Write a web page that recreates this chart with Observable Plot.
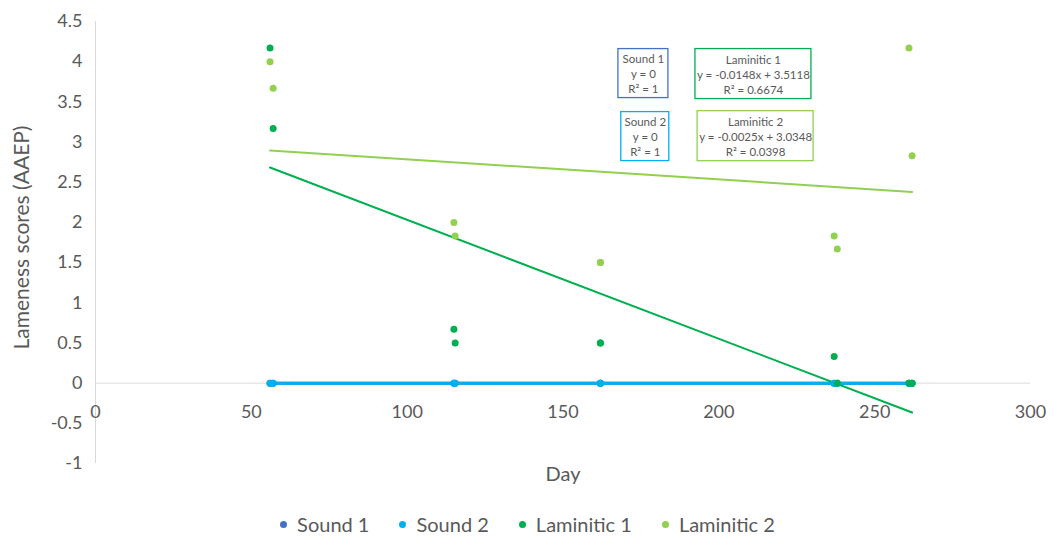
<!DOCTYPE html>
<html>
<head>
<meta charset="utf-8">
<script src="https://cdn.jsdelivr.net/npm/d3@7"></script>
<script src="https://cdn.jsdelivr.net/npm/@observablehq/plot@0.6"></script>
<style>
  html, body { margin: 0; padding: 0; background: #fff; }
  #chart { width: 1055px; height: 536px; position: relative; font-family: Lato, "Open Sans", sans-serif; }
  #legend { display: flex; justify-content: center; align-items: center; height: 38px; color: #595959; font-size: 20px; }
  .item { display: flex; align-items: center; margin: 0 15px; }
  .sw { width: 7px; height: 7px; border-radius: 50%; margin-right: 10px; }
</style>
</head>
<body>
<div id="chart"></div>
<script>
// ---- data ----
const seriesNames = ["Sound 1", "Sound 2", "Laminitic 1", "Laminitic 2"];
const seriesColors = ["#4472C4", "#00B0F0", "#00B050", "#92D050"];

const sound1Days = [56, 57, 115, 115.4, 162, 162, 237, 238, 261, 262];
const sound1Scores = [0, 0, 0, 0, 0, 0, 0, 0, 0, 0];
const sound2Days = [56, 57, 115, 115.4, 162, 162, 237, 238, 261, 262];
const sound2Scores = [0, 0, 0, 0, 0, 0, 0, 0, 0, 0];
const lam1Days = [56, 57, 115, 115.4, 162, 162, 237, 238, 261, 262];
const lam1Scores = [4.17, 3.17, 0.67, 0.5, 0.5, 0.5, 0.33, 0, 0, 0];
const lam2Days = [56, 57, 115, 115.4, 162, 162, 237, 238, 261, 262];
const lam2Scores = [4.0, 3.67, 2.0, 1.83, 1.5, 1.5, 1.83, 1.67, 4.17, 2.83];

// trendline equations shown on the chart
const trendSlopes = [0, 0, -0.0148, -0.0025];
const trendIntercepts = [0, 0, 3.5118, 3.0348];
const trendR2 = ["1", "1", "0.6674", "0.0398"];
const trendRange = [56, 262];

const xTicks = [0, 50, 100, 150, 200, 250, 300];
const yTicks = [-1, -0.5, 0, 0.5, 1, 1.5, 2, 2.5, 3, 3.5, 4, 4.5];

// ---- layout (not data) ----
const W = 1055, H = 505;
const mL = 95, mR = 25, mT = 21, mB = 42;
const xDomain = [0, 300], yDomain = [-1, 4.5];
const pxPerDay = (W - mL - mR) / (xDomain[1] - xDomain[0]);
const pxPerUnit = (H - mT - mB) / (yDomain[1] - yDomain[0]);
// annotation boxes: center in data units, size in px
const boxLayout = [
  {cx: 175.8, cy: 3.852, w: 50, h: 49},
  {cx: 176.4, cy: 3.068, w: 48, h: 49},
  {cx: 211.1, cy: 3.846, w: 116, h: 50},
  {cx: 211.8, cy: 3.073, w: 116, h: 50}
];
const yTitleOffsetPx = 73;   // distance of the y title left of the axis
const yTitleShiftPx = -5;    // vertical shift (up) of the y title

// ---- build tables ----
const allDays = [sound1Days, sound2Days, lam1Days, lam2Days];
const allScores = [sound1Scores, sound2Scores, lam1Scores, lam2Scores];
const points = [];
seriesNames.forEach((s, i) => allDays[i].forEach((d, j) => points.push({series: s, day: d, score: allScores[i][j]})));

const trends = [];
seriesNames.forEach((s, i) => trendRange.forEach(d => trends.push({series: s, day: d, score: trendIntercepts[i] + trendSlopes[i] * d})));

function eqText(i) {
  if (trendSlopes[i] === 0) return "y = " + trendIntercepts[i];
  return "y = " + trendSlopes[i].toFixed(4) + "x + " + trendIntercepts[i].toFixed(4);
}
const boxes = seriesNames.map((s, i) => {
  const b = boxLayout[i];
  return {
    series: s,
    text: s + "\n" + eqText(i) + "\nR² = " + trendR2[i],
    cx: b.cx, cy: b.cy,
    x1: b.cx - b.w / 2 / pxPerDay, x2: b.cx + b.w / 2 / pxPerDay,
    y1: b.cy - b.h / 2 / pxPerUnit, y2: b.cy + b.h / 2 / pxPerUnit
  };
});

const color = {domain: seriesNames, range: seriesColors};
const axisGray = "#D9D9D9";
const textGray = "#595959";

const plot = Plot.plot({
  width: W, height: H,
  marginLeft: mL, marginRight: mR, marginTop: mT, marginBottom: mB,
  style: {fontFamily: "Lato, 'Open Sans', sans-serif", background: "#fff", overflow: "visible"},
  x: {domain: xDomain, axis: null},
  y: {domain: yDomain, axis: null},
  color,
  marks: [
    Plot.ruleX([0], {y1: yDomain[0], y2: yDomain[1], stroke: axisGray, strokeWidth: 1}),
    Plot.ruleY([0], {x1: xDomain[0], x2: xDomain[1], stroke: axisGray, strokeWidth: 1}),
    Plot.axisY({ticks: yTicks, tickSize: 0, tickPadding: 13, tickFormat: d => String(d), fontSize: 18, color: textGray, label: null}),
    Plot.text(xTicks, {x: d => d, y: 0, dy: 29, text: d => String(d), fontSize: 18, fill: textGray}),
    Plot.text(["Lameness scores (AAEP)"], {
      x: () => xDomain[0] - yTitleOffsetPx / pxPerDay,
      y: () => (yDomain[0] + yDomain[1]) / 2 - yTitleShiftPx / pxPerUnit,
      rotate: -90, fontSize: 21, fill: textGray
    }),
    Plot.text(["Day"], {frameAnchor: "bottom", dy: 17, fontSize: 20, fill: textGray}),
    Plot.line(trends, {x: "day", y: "score", z: "series", stroke: "series", strokeWidth: d => d.series.startsWith("Sound") ? 3 : 2}),
    Plot.dot(points, {x: "day", y: "score", fill: "series", r: 3.5}),
    Plot.rect(boxes, {x1: "x1", x2: "x2", y1: "y1", y2: "y2", fill: "white", stroke: "series", strokeWidth: 1.3}),
    Plot.text(boxes, {x: "cx", y: "cy", text: "text", fontSize: 11.5, lineHeight: 1.3, fill: textGray})
  ]
});

const chart = document.getElementById("chart");
chart.appendChild(plot);

const legend = document.createElement("div");
legend.id = "legend";
seriesNames.forEach((s, i) => {
  const it = document.createElement("div");
  it.className = "item";
  const sw = document.createElement("span");
  sw.className = "sw";
  sw.style.background = seriesColors[i];
  const tx = document.createElement("span");
  tx.textContent = s;
  it.appendChild(sw); it.appendChild(tx);
  legend.appendChild(it);
});
chart.appendChild(legend);
</script>
</body>
</html>
